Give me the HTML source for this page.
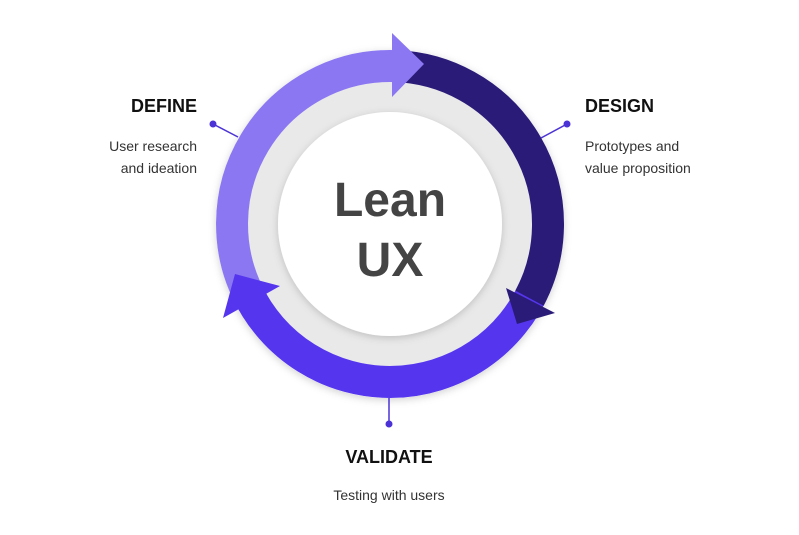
<!DOCTYPE html>
<html><head><style>
body{margin:0;background:#fff;}
svg{display:block;font-family:"Liberation Sans",Arial,sans-serif;}
</style></head><body>
<svg width="799" height="535" viewBox="0 0 799 535">
<defs><filter id="sh" x="-20%" y="-20%" width="140%" height="140%"><feDropShadow dx="0" dy="2" stdDeviation="4" flood-color="#000" flood-opacity="0.18"/></filter></defs>
<circle cx="390" cy="224" r="158" fill="none" stroke="#fff" stroke-width="32" filter="url(#sh)"/>
<circle cx="390" cy="224" r="142" fill="#e9e9e9"/>
<circle cx="390" cy="224" r="112" fill="#fff" filter="url(#sh)"/>
<g fill="none" stroke-width="32">
<path d="M253.2 303 A158 158 0 0 1 395.5 66.1" stroke="#8b77f1"/>
<path d="M535.4 285.7 A158 158 0 0 1 246.8 290.8" stroke="#5536ee"/>
<path d="M395.5 66.1 A158 158 0 0 1 529.5 298.2" stroke="#2b1b78"/>
</g>
<polygon points="235,274 280,286 223,318" fill="#5536ee"/>
<polygon points="392,33 424,64 392,97" fill="#8b77f1"/>
<polygon points="506,288 555,313 517,324" fill="#2b1b78"/>
<text x="390" y="216" text-anchor="middle" font-size="48" font-weight="bold" fill="#444">Lean</text>
<text x="390" y="276" text-anchor="middle" font-size="48" font-weight="bold" fill="#444">UX</text>
<g stroke="#4a32d6" stroke-width="1.5"><line x1="213" y1="124" x2="238" y2="137"/><line x1="567" y1="124" x2="541" y2="138"/><line x1="389" y1="424" x2="389" y2="398"/></g>
<g fill="#4a32d6"><circle cx="213" cy="124" r="3.5"/><circle cx="567" cy="124" r="3.5"/><circle cx="389" cy="424" r="3.5"/></g>
<text x="197" y="112" text-anchor="end" font-size="18" font-weight="bold" fill="#111">DEFINE</text>
<text x="197" y="151" text-anchor="end" font-size="14" fill="#333">User research</text>
<text x="197" y="173" text-anchor="end" font-size="14" fill="#333">and ideation</text>
<text x="585" y="112" font-size="18" font-weight="bold" fill="#111">DESIGN</text>
<text x="585" y="151" font-size="14" fill="#333">Prototypes and</text>
<text x="585" y="173" font-size="14" fill="#333">value proposition</text>
<text x="389" y="463" text-anchor="middle" font-size="18" font-weight="bold" fill="#111">VALIDATE</text>
<text x="389" y="500" text-anchor="middle" font-size="14" fill="#333">Testing with users</text>
</svg>
</body></html>
